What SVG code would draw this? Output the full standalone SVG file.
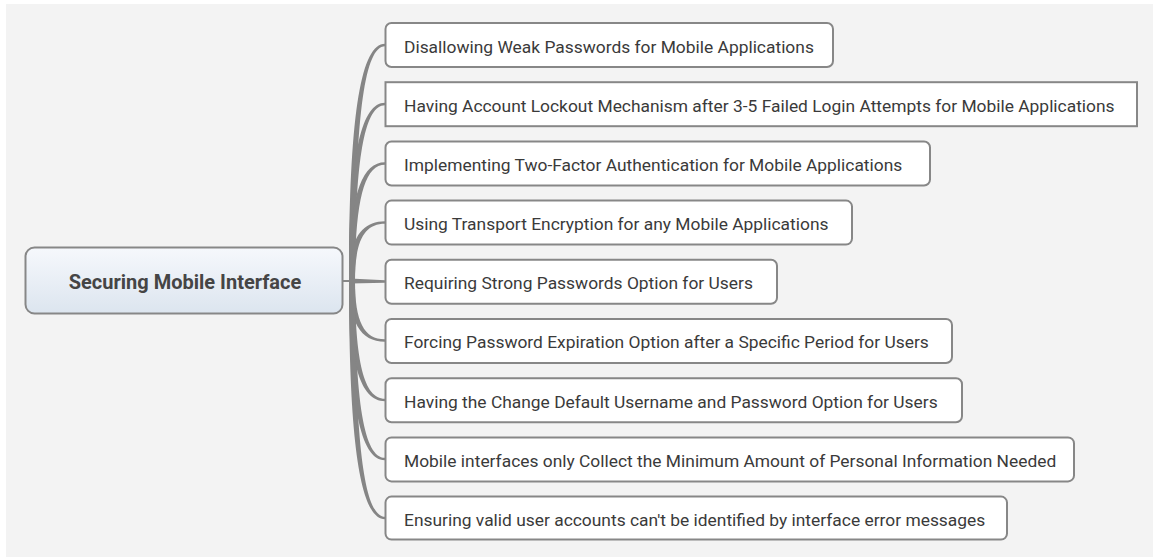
<svg xmlns="http://www.w3.org/2000/svg" width="1153" height="557" viewBox="0 0 1153 557">
<style>
.bg{fill:#f3f3f3}
.box{fill:#ffffff;stroke:#878787;stroke-width:2}
.lbl{font-family:Roboto,"Liberation Sans",sans-serif;font-size:17.4px;fill:#3a3a3a}
.ctext{font-family:Roboto,"Liberation Sans",sans-serif;font-size:20px;font-weight:bold;fill:#454545}
.conn{fill:#858585;stroke:none}
</style>
<defs>
<linearGradient id="cg" x1="0" y1="0" x2="0" y2="1">
<stop offset="0" stop-color="#f6f8fc"/>
<stop offset="1" stop-color="#dce5ef"/>
</linearGradient>
</defs>
<rect class="bg" x="6" y="4" width="1147" height="553"/>
<g id="connectors">
<line x1="343" y1="281" x2="353" y2="281" stroke="#878787" stroke-width="2"/>
<path class="conn" d="M349,281 C349,120.5 360,43.8 385,43.8 L385,46.2 C364,46.2 355,120.5 355,281 Z"/>
<path class="conn" d="M349,281 C349,160.6 360,102.8 385,102.8 L385,105.2 C364,105.2 355,160.6 355,281 Z"/>
<path class="conn" d="M349,281 C349,201.1 360,162.3 385,162.3 L385,164.7 C364,164.7 355,201.1 355,281 Z"/>
<path class="conn" d="M349,281 C349,241.2 360,221.3 385,221.3 L385,223.7 C364,223.7 355,241.2 355,281 Z"/>
<path class="conn" d="M350,278.5 L385,280.3 L385,282.7 L350,283.5 Z"/>
<path class="conn" d="M349,281 C349,321.5 360,341.7 385,341.7 L385,339.3 C364,339.3 355,321.5 355,281 Z"/>
<path class="conn" d="M349,281 C349,361.9 360,401.2 385,401.2 L385,398.8 C364,398.8 355,361.9 355,281 Z"/>
<path class="conn" d="M349,281 C349,402 360,460.2 385,460.2 L385,457.8 C364,457.8 355,402 355,281 Z"/>
<path class="conn" d="M349,281 C349,442.2 360,519.2 385,519.2 L385,516.8 C364,516.8 355,442.2 355,281 Z"/>
</g>
<g id="center">
<rect x="25.5" y="247.5" width="317" height="66" rx="9" fill="url(#cg)" stroke="#878787" stroke-width="2"/>
<text class="ctext" x="185" y="289" text-anchor="middle">Securing Mobile Interface</text>
</g>
<g id="n1"><rect class="box" x="385.5" y="23" width="447.5" height="44" rx="6"/><text class="lbl" x="404" y="52.5">Disallowing Weak Passwords for Mobile Applications</text></g>
<g id="n2"><rect class="box" x="385.5" y="82.2" width="751.5" height="44" rx="0"/><text class="lbl" x="404" y="111.7">Having Account Lockout Mechanism after 3-5 Failed Login Attempts for Mobile Applications</text></g>
<g id="n3"><rect class="box" x="385.5" y="141.5" width="544.5" height="44" rx="6"/><text class="lbl" x="404" y="171">Implementing Two-Factor Authentication for Mobile Applications</text></g>
<g id="n4"><rect class="box" x="385.5" y="200.6" width="466.5" height="44" rx="6"/><text class="lbl" x="404" y="230">Using Transport Encryption for any Mobile Applications</text></g>
<g id="n5"><rect class="box" x="385.5" y="259.8" width="391.5" height="44" rx="6"/><text class="lbl" x="404" y="289.2">Requiring Strong Passwords Option for Users</text></g>
<g id="n6"><rect class="box" x="385.5" y="319" width="566.5" height="44" rx="6"/><text class="lbl" x="404" y="348.3">Forcing Password Expiration Option after a Specific Period for Users</text></g>
<g id="n7"><rect class="box" x="385.5" y="378.2" width="576.5" height="44" rx="6"/><text class="lbl" x="404" y="407.5">Having the Change Default Username and Password Option for Users</text></g>
<g id="n8"><rect class="box" x="385.5" y="437.4" width="688.5" height="44" rx="6"/><text class="lbl" x="404" y="466.6">Mobile interfaces only Collect the Minimum Amount of Personal Information Needed</text></g>
<g id="n9"><rect class="box" x="385.5" y="496.6" width="621.5" height="43" rx="6"/><text class="lbl" x="404" y="525.8">Ensuring valid user accounts can't be identified by interface error messages</text></g>
</svg>
